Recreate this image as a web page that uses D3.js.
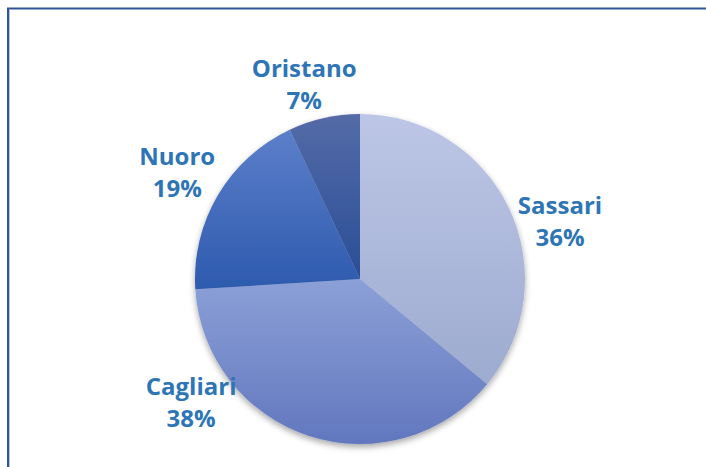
<!DOCTYPE html>
<html>
<head>
<meta charset="utf-8">
<script src="https://cdn.jsdelivr.net/npm/d3@7"></script>
<style>
  html, body { margin: 0; padding: 0; background: #fff; overflow: hidden; }
  svg { display: block; }
</style>
</head>
<body>
<svg id="chart"></svg>
<script>
// data
const categories = ['Sassari', 'Cagliari', 'Nuoro', 'Oristano'];
const values = [36, 38, 19, 7];
const percentLabels = ['36%', '38%', '19%', '7%'];

// vertical gradient per slice (top colour, bottom colour)
const sliceTop = ['#bdc6e6', '#8ba0d7', '#5c7fca', '#546ba7'];
const sliceBottom = ['#9dabd0', '#6277be', '#2d5aae', '#2a4e97'];

// label nudges away from the label arc (Excel "best fit" placement)
const labelNudge = {
    Sassari: [10, 24],
    Cagliari: [-104, -84],
    Nuoro: [-2, -7],
    Oristano: [-10, 3]
};

const width = 706, height = 467;
const cx = 360, cy = 279, radius = 165;
const labelRadius = 210;
const lineGap = 32;

const svg = d3.select('#chart')
    .attr('width', width)
    .attr('height', height);

const defs = svg.append('defs');

const shadow = defs.append('filter')
    .attr('id', 'shadow')
    .attr('x', '-10%').attr('y', '-10%')
    .attr('width', '120%').attr('height', '120%');
shadow.append('feDropShadow')
    .attr('dx', 0)
    .attr('dy', 3)
    .attr('stdDeviation', 3)
    .attr('flood-color', '#000')
    .attr('flood-opacity', 0.35);

categories.forEach((c, i) => {
    const g = defs.append('linearGradient')
        .attr('id', 'grad' + i)
        .attr('x1', 0).attr('y1', 0)
        .attr('x2', 0).attr('y2', 1);
    g.append('stop').attr('offset', '0%').attr('stop-color', sliceTop[i]);
    g.append('stop').attr('offset', '100%').attr('stop-color', sliceBottom[i]);
});

// frame of the chart area (only top and left edges visible)
svg.append('path')
    .attr('d', `M8,${height + 5} L8,8.5 L${width + 5},8.5`)
    .attr('fill', 'none')
    .attr('stroke', '#2f5597')
    .attr('stroke-width', 2);
svg.append('line')
    .attr('x1', 9.5).attr('y1', 10)
    .attr('x2', 9.5).attr('y2', height)
    .attr('stroke', '#b4c7e7')
    .attr('stroke-width', 1);

const pie = d3.pie()
    .sort(null)
    .value(d => d);

const arcs = pie(values);

const arc = d3.arc()
    .innerRadius(0)
    .outerRadius(radius);

const labelArc = d3.arc()
    .innerRadius(labelRadius)
    .outerRadius(labelRadius);

const chart = svg.append('g')
    .attr('transform', `translate(${cx}, ${cy})`);

const slices = chart.append('g')
    .attr('filter', 'url(#shadow)');

slices.selectAll('path')
    .data(arcs)
    .enter()
    .append('path')
    .attr('d', arc)
    .attr('fill', (d, i) => `url(#grad${i})`);

const labels = chart.selectAll('.label')
    .data(arcs)
    .enter()
    .append('text')
    .attr('class', 'label')
    .attr('text-anchor', 'middle')
    .style('font-family', '"Open Sans", sans-serif')
    .style('font-weight', 'bold')
    .style('font-size', '24px')
    .attr('fill', '#2e75b6')
    .attr('transform', (d, i) => {
        const [x, y] = labelArc.centroid(d);
        const n = labelNudge[categories[i]];
        return `translate(${x + n[0]}, ${y + n[1]})`;
    });

labels.append('tspan')
    .attr('x', 0)
    .attr('y', 0)
    .text((d, i) => categories[i]);

labels.append('tspan')
    .attr('x', 0)
    .attr('y', lineGap)
    .text((d, i) => percentLabels[i]);
</script>
</body>
</html>
